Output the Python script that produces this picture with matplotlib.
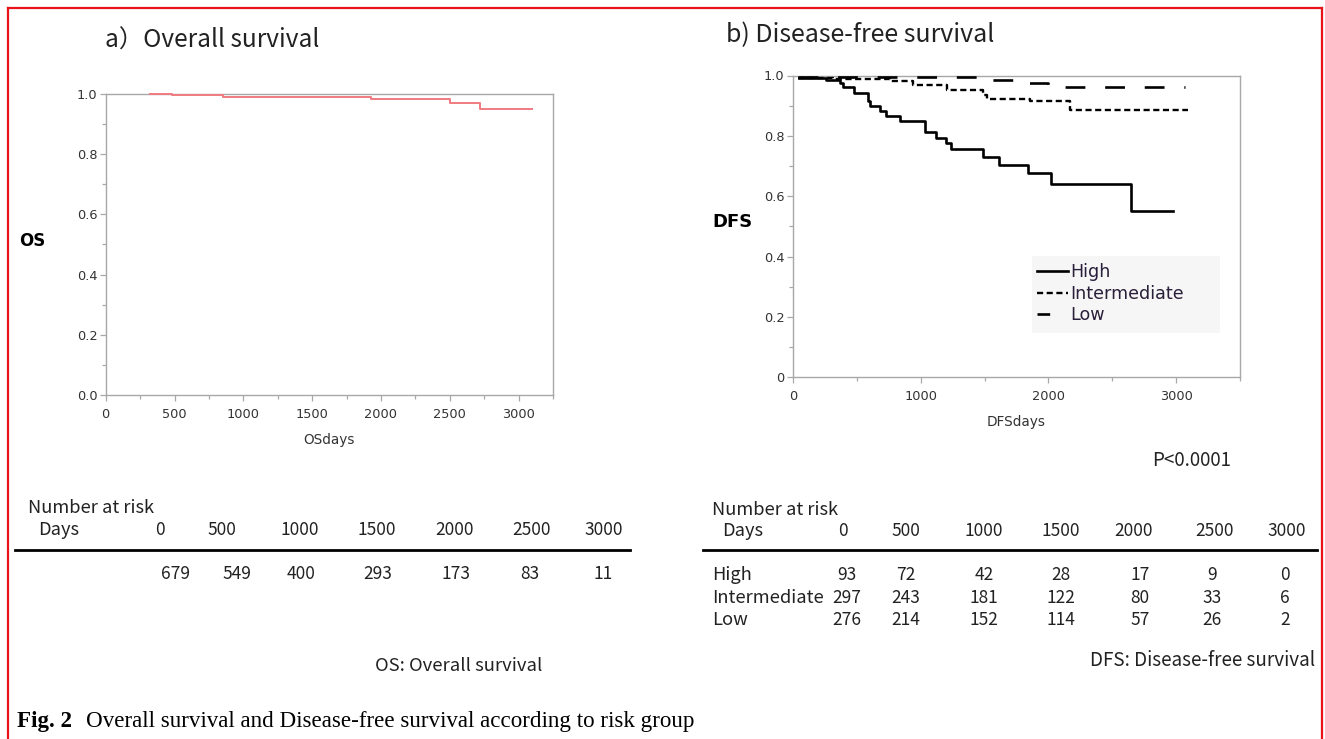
import matplotlib
matplotlib.use("Agg")
import matplotlib.pyplot as plt
from matplotlib.lines import Line2D
from matplotlib.patches import Rectangle
from matplotlib.ticker import MultipleLocator, FixedLocator

# ---------------- data ----------------
os_days = [321, 479, 849, 1108, 1931, 2499, 2717, 3099]
os_surv = [1.0, 0.996, 0.991, 0.989, 0.983, 0.970, 0.950, 0.950]

high_days = [50, 255, 365, 394, 475, 586, 606, 681, 730, 838, 1033, 1117, 1198,
             1234, 1485, 1613, 1837, 2022, 2643, 2977]
high_surv = [0.993, 0.984, 0.975, 0.961, 0.943, 0.916, 0.899, 0.882, 0.866, 0.850,
             0.813, 0.793, 0.777, 0.755, 0.730, 0.705, 0.677, 0.642, 0.550, 0.550]

inter_days = [42, 316, 759, 942, 1203, 1490, 1516, 1855, 2168, 3095]
inter_surv = [0.993, 0.990, 0.981, 0.970, 0.953, 0.936, 0.922, 0.914, 0.887, 0.887]

low_days = [42, 1438, 1803, 1999, 3069]
low_surv = [0.995, 0.984, 0.975, 0.961, 0.961]

risk_days = ["0", "500", "1000", "1500", "2000", "2500", "3000"]
os_at_risk = [679, 549, 400, 293, 173, 83, 11]
dfs_groups = ["High", "Intermediate", "Low"]
dfs_at_risk = [
    [93, 72, 42, 28, 17, 9, 0],
    [297, 243, 181, 122, 80, 33, 6],
    [276, 214, 152, 114, 57, 26, 2],
]

os_xticks = [0, 500, 1000, 1500, 2000, 2500, 3000]
os_yticks = [0.0, 0.2, 0.4, 0.6, 0.8, 1.0]
os_yticklabels = ["0.0", "0.2", "0.4", "0.6", "0.8", "1.0"]
dfs_xticks = [0, 1000, 2000, 3000]
dfs_yticks = [0.0, 0.2, 0.4, 0.6, 0.8, 1.0]
dfs_yticklabels = ["0", "0.2", "0.4", "0.6", "0.8", "1.0"]

# ---------------- layout helpers ----------------
W, H = 1325, 739
fig = plt.figure(figsize=(W / 100, H / 100), dpi=100)
fig.patch.set_facecolor("white")


def fx(x):
    return x / W


def fy(y):
    return 1 - y / H


JP = ["Noto Sans CJK JP", "DejaVu Sans"]
TXT = "#222222"
SPINE = "#a8a8a8"


def style_axes(ax):
    for s in ax.spines.values():
        s.set_color(SPINE)
        s.set_linewidth(1.0)
    ax.tick_params(which="both", direction="out", color=SPINE, width=0.9,
                   labelsize=9.3, labelcolor="#333333")
    ax.tick_params(axis="x", pad=5)
    ax.tick_params(axis="y", pad=2)
    ax.tick_params(which="major", length=4)
    ax.tick_params(which="minor", length=3)


# ---------------- panel a ----------------
ax1 = fig.add_axes([fx(105.7), fy(395), fx(553) - fx(105.7), fy(94) - fy(395)])
ax1.step(os_days, os_surv, where="post", color="#f07a80", lw=1.4, zorder=5,
         clip_on=False)
ax1.set_xlim(0, 3250)
ax1.set_ylim(0, 1.0)
ax1.xaxis.set_major_locator(FixedLocator(os_xticks))
ax1.xaxis.set_minor_locator(MultipleLocator(250))
ax1.yaxis.set_major_locator(FixedLocator(os_yticks))
ax1.set_yticklabels(os_yticklabels)
ax1.yaxis.set_minor_locator(MultipleLocator(0.1))
style_axes(ax1)
ax1.set_xlabel("OSdays", fontsize=9.8, color="#333333", labelpad=9)

# ---------------- panel b ----------------
ax2 = fig.add_axes([fx(793), fy(377.5), fx(1240) - fx(793), fy(75.5) - fy(377.5)])
lh, = ax2.step(high_days, high_surv, where="post", color="black", lw=1.9,
               zorder=6, label="High")
li, = ax2.step(inter_days, inter_surv, where="post", color="black", lw=1.7,
               zorder=5, label="Intermediate")
li.set_dashes((2.6, 1.5))
ll, = ax2.step(low_days, low_surv, where="post", color="black", lw=1.9,
               zorder=4, label="Low")
ll.set_dashes((7.5, 7.5))
ax2.set_xlim(0, 3500)
ax2.set_ylim(0, 1.0)
ax2.xaxis.set_major_locator(FixedLocator(dfs_xticks))
ax2.xaxis.set_minor_locator(MultipleLocator(500))
ax2.yaxis.set_major_locator(FixedLocator(dfs_yticks))
ax2.set_yticklabels(dfs_yticklabels)
ax2.yaxis.set_minor_locator(MultipleLocator(0.1))
style_axes(ax2)
ax2.set_xlabel("DFSdays", fontsize=9.8, color="#333333", labelpad=9)

# legend background box
ax2.add_patch(Rectangle((0.535, 0.147), 0.42, 0.255, transform=ax2.transAxes,
                        facecolor="#f6f6f6", edgecolor="none", zorder=7))
h_high = Line2D([], [], color="black", lw=1.9)
h_int = Line2D([], [], color="black", lw=1.7, dashes=(2.6, 1.5))
h_low = Line2D([], [], color="black", lw=1.9)
leg = ax2.legend([h_high, h_int, h_low], dfs_groups, loc="upper left",
                 bbox_to_anchor=(0.535, 0.395), frameon=False, fontsize=12.6,
                 handlelength=1.75, handletextpad=0.15, labelspacing=0.2,
                 borderaxespad=0, borderpad=0.3)
leg.set_zorder(8)
for t in leg.get_texts():
    t.set_color("#2a1f3a")
# make the Low handle a single short dash
leg.legend_handles[2].set_dashes((4.8, 20))

# ---------------- titles & y labels ----------------
fig.text(fx(105), fy(41), "a）Overall survival", fontsize=17.6, family=JP,
         color=TXT, ha="left", va="center")
fig.text(fx(726), fy(35), "b) Disease-free survival", fontsize=18, family=JP,
         color=TXT, ha="left", va="center")
fig.text(fx(32), fy(241), "OS", fontsize=12, fontweight="bold", ha="center",
         va="center", color="black")
fig.text(fx(732), fy(222), "DFS", fontsize=13, fontweight="bold", ha="center",
         va="center", color="black")
fig.text(fx(1192), fy(461), "P<0.0001", fontsize=13.5, family=JP, color=TXT,
         ha="center", va="center")

# ---------------- number at risk tables ----------------
LFS = 13.2   # word labels
NFS = 12.5   # numbers
# left table
fig.text(fx(28), fy(508), "Number at risk", fontsize=LFS, family=JP, color=TXT,
         ha="left", va="center")
fig.text(fx(38), fy(530), "Days", fontsize=LFS, family=JP, color=TXT,
         ha="left", va="center")
left_hdr_x = [160, 222, 300, 377, 455, 532, 604]
left_val_x = [175, 237, 301, 378, 456, 530, 603]
for lab, x in zip(risk_days, left_hdr_x):
    fig.text(fx(x), fy(530), lab, fontsize=NFS, family=JP, color=TXT,
             ha="center", va="center")
for v, x in zip(os_at_risk, left_val_x):
    fig.text(fx(x), fy(574), str(v), fontsize=NFS, family=JP, color=TXT,
             ha="center", va="center")
fig.add_artist(Line2D([fx(15), fx(630)], [fy(550), fy(550)], color="black",
                      lw=2.0, transform=fig.transFigure))

# right table
fig.text(fx(712), fy(510), "Number at risk", fontsize=LFS, family=JP, color=TXT,
         ha="left", va="center")
fig.text(fx(722), fy(531), "Days", fontsize=LFS, family=JP, color=TXT,
         ha="left", va="center")
right_hdr_x = [843, 906, 984, 1061, 1134, 1215, 1287]
right_val_x = [847, 906, 984, 1061, 1140, 1212, 1285]
for lab, x in zip(risk_days, right_hdr_x):
    fig.text(fx(x), fy(531), lab, fontsize=NFS, family=JP, color=TXT,
             ha="center", va="center")
row_y = [575, 598, 620]
for g, vals, y in zip(dfs_groups, dfs_at_risk, row_y):
    fig.text(fx(712), fy(y), g, fontsize=LFS, family=JP, color=TXT,
             ha="left", va="center")
    for v, x in zip(vals, right_val_x):
        fig.text(fx(x), fy(y), str(v), fontsize=NFS, family=JP, color=TXT,
                 ha="center", va="center")
fig.add_artist(Line2D([fx(703), fx(1317)], [fy(550), fy(550)], color="black",
                      lw=2.0, transform=fig.transFigure))

# footnotes
fig.text(fx(459), fy(666), "OS: Overall survival", fontsize=13.3, family=JP,
         color=TXT, ha="center", va="center")
fig.text(fx(1315), fy(660), "DFS: Disease-free survival", fontsize=13.6,
         family=JP, color=TXT, ha="right", va="center")

# caption
fig.text(fx(17), fy(721), "Fig. 2", fontsize=16.6, family="Liberation Serif",
         fontweight="bold", color="black", ha="left", va="center")
fig.text(fx(86), fy(721), "Overall survival and Disease-free survival according to risk group",
         fontsize=16.6, family="Liberation Serif", color="black", ha="left",
         va="center")

# red frame
RED = "#e8141a"
fig.add_artist(Line2D([fx(8), fx(8)], [fy(739), fy(8)], color=RED, lw=1.6,
                      transform=fig.transFigure))
fig.add_artist(Line2D([fx(8), fx(1322)], [fy(8), fy(8)], color=RED, lw=1.6,
                      transform=fig.transFigure))
fig.add_artist(Line2D([fx(1322), fx(1322)], [fy(8), fy(739)], color=RED, lw=1.6,
                      transform=fig.transFigure))

fig.savefig("out.png", dpi=100)
